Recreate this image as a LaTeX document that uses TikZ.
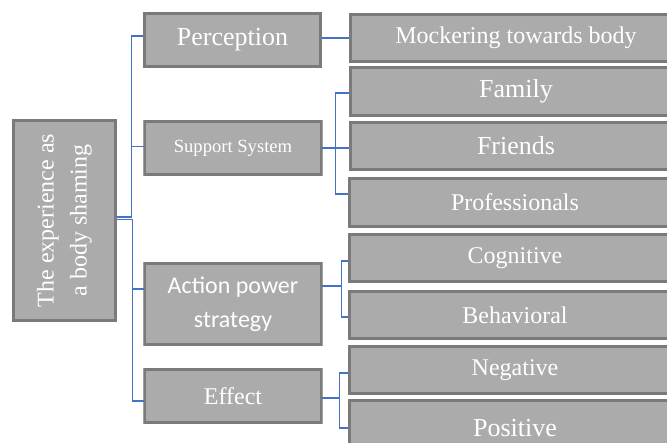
\documentclass[tikz,border=0pt]{standalone}
\usepackage{fontspec}
\setmainfont{Liberation Serif}
\newfontfamily\calib{Carlito}
\definecolor{boxfill}{RGB}{171,171,171}
\definecolor{boxedge}{RGB}{122,122,122}
\definecolor{boxouter}{RGB}{160,160,160}
\definecolor{linkblue}{RGB}{68,114,196}
\tikzset{
  boxst/.style={fill=boxfill, draw=boxedge, line width=2.4pt,
    preaction={draw=boxouter, line width=3.6pt},
    text=white, inner sep=0pt, align=center},
  conn/.style={draw=linkblue, line width=1.3pt},
  fs/.style={font=\fontsize{24}{28}\selectfont},
  fl/.style={font=\fontsize{26}{30}\selectfont},
}
\begin{document}
\begin{tikzpicture}[x=1pt,y=1pt]
\useasboundingbox (0,0) rectangle (667,-443);
\clip (0,0) rectangle (667,-443);
% root
\node[boxst, minimum width=102pt, minimum height=200pt, fs] (root) at (64.5,-220.5)
  {\rotatebox{90}{\parbox{200pt}{\centering\fontsize{24}{33}\selectfont The experience as\\ a body shaming}}};
% level 1
\node[boxst, minimum width=176pt, minimum height=53pt, fl] (perc) at (232.5,-40) {Perception};
\node[boxst, minimum width=176pt, minimum height=53pt, font=\fontsize{18.6}{22}\selectfont] (supp) at (233,-148) {Support System};
\node[boxst, minimum width=176pt, minimum height=81pt, font=\calib\fontsize{24}{34}\selectfont] (act) at (233,-304) {Action power\\strategy};
\node[boxst, minimum width=176pt, minimum height=53pt, fs] (eff) at (233,-396) {Effect};
% level 2
\node[boxst, minimum width=331pt, minimum height=47pt, fs] (mock) at (516,-38) {Mockering towards body};
\node[boxst, minimum width=331pt, minimum height=48pt, fl] (fam) at (516,-91.5) {Family};
\node[boxst, minimum width=331pt, minimum height=47pt, fl] (fri) at (516,-146) {Friends};
\node[boxst, minimum width=331pt, minimum height=48pt, fs] (prof) at (515,-202.5) {Professionals};
\node[boxst, minimum width=331pt, minimum height=47pt, fs] (cog) at (515,-258) {Cognitive};
\node[boxst, minimum width=331pt, minimum height=47pt, fs] (beh) at (515,-315) {Behavioral};
\node[boxst, minimum width=331pt, minimum height=47pt, fs] (neg) at (515,-370) {Negative};
\node[boxst, minimum width=331pt, minimum height=55pt, fl] (pos) at (515,-428) {Positive};
% root connectors
\draw[conn] ([yshift=3.5pt]root.east) -- ++(14.5pt,0) |- ([yshift=4pt]perc.west);
\draw[conn] ([yshift=3.5pt]root.east) -- ++(14.5pt,0) |- ([yshift=1.3pt]supp.west);
\draw[conn] ([yshift=1pt]root.east) -- ++(15.5pt,0) |- ([yshift=15pt]act.west);
\draw[conn] ([yshift=1pt]root.east) -- ++(15.5pt,0) |- ([yshift=-5pt]eff.west);
% level 2 connectors
\draw[conn] (perc.east |- mock.west) -- (mock.west);
\draw[conn] (supp.east) -- ++(13pt,0) |- ([yshift=-1.5pt]fam.west);
\draw[conn] (supp.east) -- ++(13pt,0) |- ([yshift=-2pt]fri.west);
\draw[conn] (supp.east) -- ++(13pt,0) |- ([yshift=8.5pt]prof.west);
\draw[conn] ([yshift=18pt]act.east) -- ++(19pt,0) |- ([yshift=-3pt]cog.west);
\draw[conn] ([yshift=18pt]act.east) -- ++(19pt,0) |- ([yshift=-2pt]beh.west);
\draw[conn] ([yshift=-2pt]eff.east) -- ++(17pt,0) |- ([yshift=-3pt]neg.west);
\draw[conn] ([yshift=-2pt]eff.east) -- ++(17pt,0) |- (pos.west);
\end{tikzpicture}
\end{document}
